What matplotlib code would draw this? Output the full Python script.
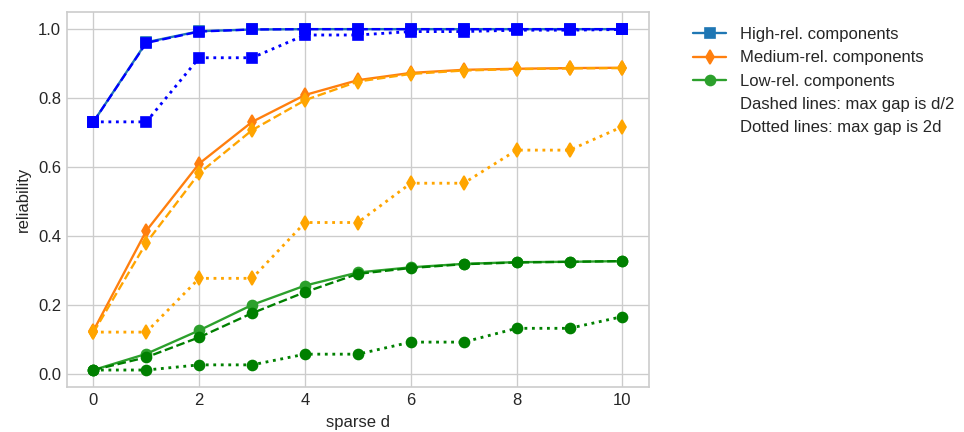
import numpy as np
import matplotlib
matplotlib.use('Agg')
import matplotlib.pyplot as plt

plt.style.use('seaborn-v0_8-whitegrid')
plt.rcParams['font.family'] = ['Liberation Sans', 'DejaVu Sans']

d = np.arange(11)

# high-reliability components
high = [0.731, 0.962, 0.994, 0.999, 1.0, 1.0, 1.0, 1.0, 1.0, 1.0, 1.0]
high_half = [0.731, 0.960, 0.993, 0.999, 1.0, 1.0, 1.0, 1.0, 1.0, 1.0, 1.0]
high_double = [0.731, 0.731, 0.917, 0.917, 0.983, 0.983, 0.993, 0.993, 0.997, 0.997, 0.999]

# medium-reliability components
med = [0.125, 0.415, 0.610, 0.731, 0.809, 0.852, 0.873, 0.882, 0.885, 0.887, 0.888]
med_half = [0.120, 0.380, 0.582, 0.707, 0.794, 0.848, 0.870, 0.880, 0.884, 0.886, 0.887]
med_double = [0.121, 0.121, 0.277, 0.277, 0.439, 0.439, 0.553, 0.553, 0.649, 0.649, 0.717]

# low-reliability components
low = [0.011, 0.058, 0.126, 0.200, 0.256, 0.294, 0.309, 0.319, 0.324, 0.325, 0.327]
low_half = [0.011, 0.048, 0.106, 0.176, 0.237, 0.290, 0.307, 0.318, 0.323, 0.325, 0.327]
low_double = [0.011, 0.011, 0.026, 0.026, 0.057, 0.057, 0.092, 0.092, 0.132, 0.132, 0.166]

fig = plt.figure(figsize=(965 / 120, 432 / 120), dpi=120)
ax = fig.add_axes([0.0694, 0.104, 0.603, 0.868])

# solid: exact, dashed: max gap d/2, dotted: max gap 2d
ax.plot(d, high, 's-', color='C0', lw=1.4, label='High-rel. components')
ax.plot(d, high_half, 's--', color='b', lw=1.4)
ax.plot(d, high_double, 's:', color='b', lw=1.7)

ax.plot(d, med, 'd-', color='C1', lw=1.4, label='Medium-rel. components')
ax.plot(d, med_half, 'd--', color='orange', lw=1.4)
ax.plot(d, med_double, 'd:', color='orange', lw=1.7)

ax.plot(d, low, 'o-', color='C2', lw=1.4, label='Low-rel. components')
ax.plot(d, low_half, 'o--', color='g', lw=1.4)
ax.plot(d, low_double, 'o:', color='g', lw=1.7)

ax.plot([], [], ' ', label='Dashed lines: max gap is d/2')
ax.plot([], [], ' ', label='Dotted lines: max gap is 2d')

ax.set_xlabel('sparse d')
ax.set_ylabel('reliability')
for sp in ax.spines.values():
    sp.set_visible(True)
    sp.set_color('#cccccc')
ax.legend(bbox_to_anchor=(1.05, 1), loc='upper left')

fig.savefig('out.png', dpi=120)
